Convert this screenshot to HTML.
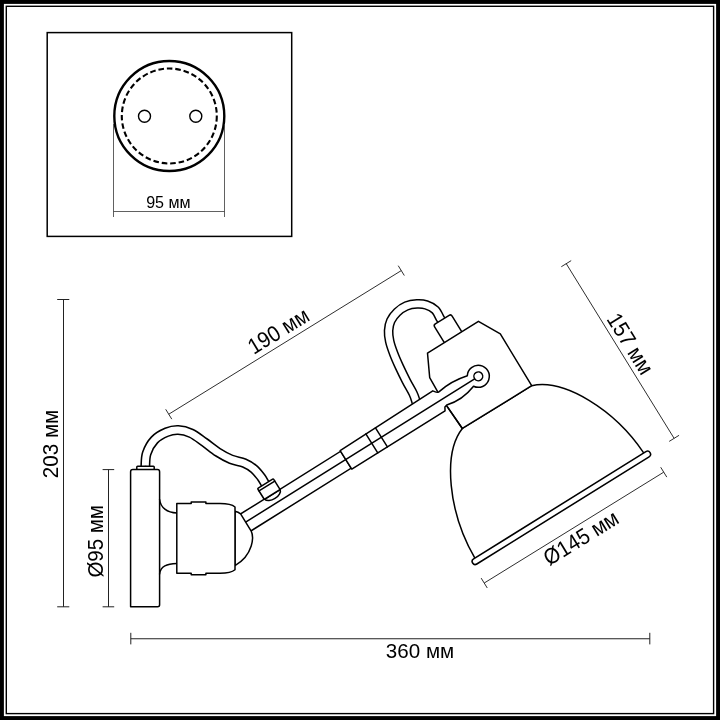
<!DOCTYPE html>
<html><head><meta charset="utf-8"><title>Lamp dimensions</title>
<style>
html,body{margin:0;padding:0;background:#fff}
body{width:720px;height:720px;overflow:hidden;font-family:"Liberation Sans",sans-serif}
svg{display:block;will-change:transform}
text{font-family:"Liberation Sans",sans-serif;fill:#000}
.k{fill:none;stroke:#000;stroke-width:1.5;stroke-linejoin:round;stroke-linecap:round}
.w{fill:#fff;stroke:#000;stroke-width:1.5;stroke-linejoin:round;stroke-linecap:round}
.d{fill:none;stroke:#222;stroke-width:0.85}
</style></head><body>
<svg width="720" height="720" viewBox="0 0 720 720">
<rect x="0" y="0" width="720" height="720" fill="#000"/>
<rect x="3.9" y="3.9" width="712.2" height="712.2" fill="#fff"/>
<rect x="6.3" y="6.3" width="707.3" height="707.3" fill="none" stroke="#000" stroke-width="1.4"/>
<g id="inset">
<rect x="47.2" y="32.6" width="244.5" height="203.8" fill="none" stroke="#000" stroke-width="1.5"/>
<circle cx="169.3" cy="116" r="55" fill="none" stroke="#000" stroke-width="2.4"/>
<circle cx="169.3" cy="116" r="47.5" fill="none" stroke="#000" stroke-width="2.1" stroke-dasharray="5.6 2.9"/>
<circle cx="144.5" cy="116.2" r="6" fill="none" stroke="#000" stroke-width="1.4"/>
<circle cx="195.8" cy="116.2" r="6" fill="none" stroke="#000" stroke-width="1.4"/>
<path class="d" style="stroke-width:0.8;stroke:#383838" d="M113.5,124 V217 M224.5,124 V217 M113.5,211.5 H224.5"/>
<text x="168.4" y="208.4" font-size="16.8" text-anchor="middle" textLength="44.5" lengthAdjust="spacingAndGlyphs">95 мм</text>
</g>
<g id="dims">
<path class="d" style="stroke-width:1" d="M63.5,299.5 V606.8 M57.2,299.5 H69.3 M57.2,606.8 H69.3"/>
<path class="d" style="stroke-width:1" d="M108.5,469.6 V606.8 M102.6,469.6 H114.2 M102.6,606.8 H114.2"/>
<path class="d" style="stroke-width:1" d="M130.8,638.75 H649.8 M130.8,632.8 V644.4 M649.8,632.8 V644.4"/>
<text transform="translate(58.1,478.2) rotate(-90)" font-size="22.3" textLength="68.4" lengthAdjust="spacingAndGlyphs">203 мм</text>
<text transform="translate(103.2,577.6) rotate(-90)" font-size="22.3" textLength="72.5" lengthAdjust="spacingAndGlyphs">Ø95 мм</text>
<text x="385.8" y="658.2" font-size="21" textLength="68.4" lengthAdjust="spacingAndGlyphs">360 мм</text>
</g>
<g id="lamp" transform="translate(478.3,376.3) rotate(-31.7)">
<path class="d" d="M-283.3,-130.4 H-10 M-283.3,-136.2 V-124.6 M-10,-136.2 V-124.6"/>
<path class="d" d="M134,-49.6 V155.7 M128.2,-49.6 H139.8 M128.2,155.7 H139.8"/>
<path class="d" d="M-103.6,179 H107.4 M-103.6,173.2 V184.8 M107.4,173.2 V184.8"/>
<text x="-179.9" y="-136.1" font-size="22.3" textLength="67.4" lengthAdjust="spacingAndGlyphs">190 мм</text>
<text x="-39.5" y="199" font-size="22.3" textLength="83.8" lengthAdjust="spacingAndGlyphs">Ø145 мм</text>
<text transform="translate(138.8,18.4) rotate(90)" font-size="22.3" textLength="67.4" lengthAdjust="spacingAndGlyphs">157 мм</text>
</g>
<path d="M145.30,468.50 C145.30,468.20 145.07,469.23 145.30,466.70 C145.53,464.17 145.18,457.75 146.70,453.30 C148.22,448.85 151.07,443.52 154.40,440.00 C157.73,436.48 162.73,433.87 166.70,432.20 C170.67,430.53 174.13,429.82 178.20,430.00 C182.27,430.18 186.73,431.27 191.10,433.30 C195.47,435.33 199.95,439.05 204.40,442.20 C208.85,445.35 213.35,449.35 217.80,452.20 C222.25,455.05 226.67,457.48 231.10,459.30 C235.53,461.12 240.62,461.50 244.40,463.10 C248.18,464.70 251.02,466.57 253.80,468.90 C256.58,471.23 259.25,474.70 261.10,477.10 C262.95,479.50 264.00,481.82 264.90,483.30 C265.80,484.78 266.23,485.55 266.50,486.00" fill="none" stroke="#000" stroke-width="10" stroke-linecap="butt"/>
<path d="M145.30,468.50 C145.30,468.20 145.07,469.23 145.30,466.70 C145.53,464.17 145.18,457.75 146.70,453.30 C148.22,448.85 151.07,443.52 154.40,440.00 C157.73,436.48 162.73,433.87 166.70,432.20 C170.67,430.53 174.13,429.82 178.20,430.00 C182.27,430.18 186.73,431.27 191.10,433.30 C195.47,435.33 199.95,439.05 204.40,442.20 C208.85,445.35 213.35,449.35 217.80,452.20 C222.25,455.05 226.67,457.48 231.10,459.30 C235.53,461.12 240.62,461.50 244.40,463.10 C248.18,464.70 251.02,466.57 253.80,468.90 C256.58,471.23 259.25,474.70 261.10,477.10 C262.95,479.50 264.00,481.82 264.90,483.30 C265.80,484.78 266.23,485.55 266.50,486.00" fill="none" stroke="#fff" stroke-width="6.9" stroke-linecap="butt"/>
<path d="M441.30,320.20 C441.13,319.93 441.32,320.32 440.30,318.60 C439.28,316.88 437.53,312.18 435.20,309.90 C432.87,307.62 429.35,305.90 426.30,304.90 C423.25,303.90 420.23,303.72 416.90,303.90 C413.57,304.08 409.60,304.62 406.30,306.00 C403.00,307.38 399.68,309.73 397.10,312.20 C394.52,314.67 392.22,317.73 390.80,320.80 C389.38,323.87 388.78,327.19 388.60,330.60 C388.42,334.01 388.84,337.39 389.70,341.25 C390.56,345.11 392.13,349.48 393.75,353.75 C395.37,358.02 397.29,362.32 399.40,366.90 C401.51,371.47 404.12,376.77 406.40,381.20 C408.68,385.63 411.53,390.22 413.10,393.50 C414.67,396.78 415.17,398.98 415.80,400.90 C416.43,402.82 416.72,404.32 416.90,405.00" fill="none" stroke="#000" stroke-width="9.8" stroke-linecap="butt"/>
<path d="M441.30,320.20 C441.13,319.93 441.32,320.32 440.30,318.60 C439.28,316.88 437.53,312.18 435.20,309.90 C432.87,307.62 429.35,305.90 426.30,304.90 C423.25,303.90 420.23,303.72 416.90,303.90 C413.57,304.08 409.60,304.62 406.30,306.00 C403.00,307.38 399.68,309.73 397.10,312.20 C394.52,314.67 392.22,317.73 390.80,320.80 C389.38,323.87 388.78,327.19 388.60,330.60 C388.42,334.01 388.84,337.39 389.70,341.25 C390.56,345.11 392.13,349.48 393.75,353.75 C395.37,358.02 397.29,362.32 399.40,366.90 C401.51,371.47 404.12,376.77 406.40,381.20 C408.68,385.63 411.53,390.22 413.10,393.50 C414.67,396.78 415.17,398.98 415.80,400.90 C416.43,402.82 416.72,404.32 416.90,405.00" fill="none" stroke="#fff" stroke-width="6.8" stroke-linecap="butt"/>
<g id="lamp2" transform="translate(478.3,376.3) rotate(-31.7)">
<path d="M40.5,36 C72,47 98.5,100 100.5,152 L-98.5,153 C-97,100 -71,47 -41,36 Z" fill="#fff"/>
<path class="k" d="M100.5,152 C98.5,100 72,47 40.5,36 L-41,36 C-71,47 -97,100 -98.5,153"/>
<path d="M-99.9,155.9 L103,155.2" fill="none" stroke="#000" stroke-width="7.6" stroke-linecap="round"/>
<path d="M-99.9,155.9 L103,155.2" fill="none" stroke="#fff" stroke-width="4.5" stroke-linecap="round"/>
<rect class="w" x="-11.2" y="-67.2" width="20.6" height="22" rx="2.2"/>
<path class="w" d="M-31,-46.5 L29,-46.7 L41,-24.5 L40.5,36 L-41,36 L-42.4,8 L-42.6,-8.7 L-42,-24.5 Z"/>
<path class="k" d="M-42.4,9.4 L-41,36"/>
</g>
<g id="arm" transform="translate(478.3,376.3) rotate(-32.05)">
<path class="w" d="M-276,-9.5 H-156.5 V10.4 H-276 Z"/>
<path class="w" d="M-156.5,-10.4 L-46.3,-11.8 C-45.3,-10.6 -44.5,-8.6 -42.6,-7.8 L-41.7,-7.7 Q-26,-10.6 -9,-6.3 A11,11 0 1 1 -9.3,5.9 Q-26,11.9 -42,7.6 L-44.6,8.3 L-46.5,11.6 L-156.5,11.6 Z"/>
<path class="k" d="M-276,0.15 H-4.4"/>
<path class="k" d="M-125.9,-10.8 V11.6 M-114.5,-10.9 V11.6"/>
<circle class="w" cx="0" cy="0" r="4.4"/>
<path class="w" d="M-246.3,-9.2 A9.2,5.4 0 0 0 -228,-9.2 Z"/>
<rect class="w" x="-246.7" y="-22" width="18.6" height="12.8" rx="0.8"/>
<path class="k" d="M-246.7,-19.2 H-228.1"/>
</g>
<g id="mount">
<rect class="w" x="136.8" y="466.3" width="17.4" height="3.4" rx="0.8"/>
<path class="w" d="M132.8,469.6 H157.4 Q159.6,469.6 159.6,471.8 V604.8 Q159.6,606.8 157.6,606.8 H130.6 V471.8 Q130.6,469.6 132.8,469.6 Z"/>
<path class="k" d="M159.6,499.5 C160.5,507.5 167,512.6 176.8,512.9 M176.8,563.4 C167,563.8 160.5,566 159.6,574"/>
<path class="w" d="M235,511.2 Q238.2,511.9 240.6,513.8 L251.2,531.2 C252.8,534.5 252.7,541 251.2,546 C249,553 243,561 235,565.6 Z"/>
<path class="w" d="M176.8,503.5 H191.2 V502 H205.9 V503.5 H220 C227,503.5 232.5,504.8 235,507 V569.8 C232.5,572 227,573.3 220,573.3 H205.9 V574.8 H191.2 V573.3 H176.8 Z"/>
</g>
</svg>
</body></html>
